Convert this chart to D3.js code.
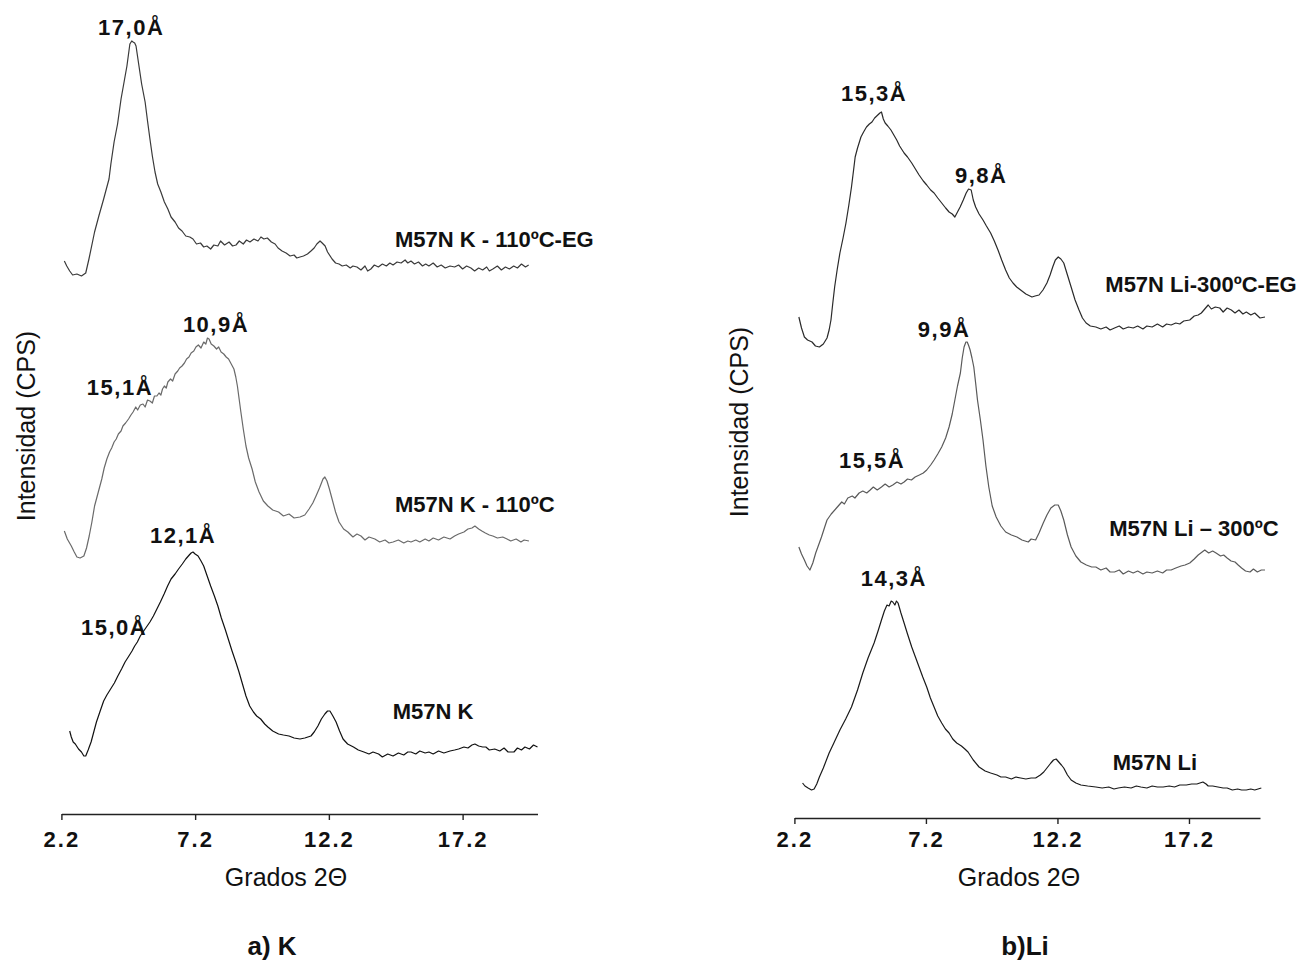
<!DOCTYPE html>
<html>
<head>
<meta charset="utf-8">
<script src="https://cdn.jsdelivr.net/npm/d3@7"></script>
<style>
body { margin: 0; background: #fff; }
text { font-family: Arial, "Liberation Sans", sans-serif; fill: #111; }
</style>
</head>
<body>
<svg width="1309" height="967"></svg>
<script>
// tick positions on the 2-theta axis
var tickValues = [2.2, 7.2, 12.2, 17.2];

// a) K panel, [2theta, counts] (curves are stacked as in the figure)
var kEG = [[2.31,553],[2.4,548],[2.51,543],[2.62,539],[2.78,540],[2.95,538],[3.11,541],[3.23,555],[3.44,582],[3.6,598],[3.78,615],[3.98,635],[4.05,650],[4.17,672],[4.3,690],[4.43,715],[4.55,733],[4.65,748],[4.76,770],[4.83,773],[4.88,772],[4.94,771],[4.99,768],[5.10,748],[5.2,730],[5.33,712],[5.42,693],[5.51,675],[5.6,658],[5.70,642],[5.8,630],[5.92,622],[6.05,612],[6.18,605],[6.3,597],[6.45,592],[6.58,586],[6.71,583],[6.85,578],[7.0,577],[7.12,575],[7.25,570],[7.4,571],[7.52,567],[7.64,568],[7.78,565],[7.9,569],[8.05,568],[8.15,573],[8.3,569],[8.47,572],[8.6,568],[8.73,569],[8.85,573],[9.0,570],[9.12,574],[9.25,572],[9.4,575],[9.55,573],[9.66,577],[9.77,575],[9.9,576],[10.05,572],[10.19,570],[10.3,566],[10.45,563],[10.60,561],[10.75,558],[10.9,559],[11.0,556],[11.12,557],[11.25,558],[11.4,560],[11.53,563],[11.65,566],[11.75,570],[11.87,573],[11.95,571],[12.06,568],[12.15,562],[12.32,555],[12.45,551],[12.58,550],[12.7,548],[12.85,549],[13.0,546],[13.1,548],[13.25,547],[13.4,544],[13.55,548],[13.65,543],[13.77,545],[13.9,549],[14.05,547],[14.2,550],[14.35,548],[14.48,551],[14.6,549],[14.75,552],[14.9,551],[15.05,554],[15.15,551],[15.27,553],[15.4,550],[15.55,552],[15.7,548],[15.82,550],[15.94,548],[16.1,551],[16.25,547],[16.4,549],[16.55,546],[16.73,548],[16.9,547],[17.05,549],[17.2,545],[17.35,548],[17.51,546],[17.65,543],[17.8,546],[17.95,544],[18.1,547],[18.2,543],[18.33,545],[18.5,548],[18.65,544],[18.8,547],[18.95,545],[19.11,548],[19.25,546],[19.4,550],[19.55,547],[19.67,549]];

var k110 = [[2.31,283],[2.42,275],[2.57,268],[2.68,262],[2.78,257],[2.9,256],[3.04,258],[3.14,266],[3.24,278],[3.34,292],[3.44,308],[3.58,322],[3.71,335],[3.8,346],[3.90,355],[4.0,362],[4.08,366],[4.17,372],[4.25,375],[4.33,380],[4.43,383],[4.5,388],[4.6,391],[4.71,395],[4.8,399],[4.88,402],[4.98,407],[5.05,404],[5.15,409],[5.25,410],[5.33,407],[5.42,414],[5.51,413],[5.6,411],[5.68,418],[5.77,418],[5.85,421],[5.92,419],[5.98,425],[6.05,428],[6.12,426],[6.18,432],[6.28,435],[6.36,433],[6.45,440],[6.55,443],[6.62,446],[6.71,448],[6.8,451],[6.88,455],[6.97,457],[7.05,461],[7.15,463],[7.23,467],[7.32,469],[7.42,466],[7.52,472],[7.6,470],[7.66,476],[7.72,475],[7.8,470],[7.9,468],[8.0,465],[8.08,467],[8.17,462],[8.27,460],[8.36,457],[8.45,455],[8.55,450],[8.65,445],[8.72,437],[8.78,428],[8.85,414],[8.91,402],[9.0,385],[9.10,368],[9.2,356],[9.33,345],[9.45,332],[9.59,322],[9.75,313],[9.92,308],[10.1,304],[10.32,302],[10.5,298],[10.71,300],[10.9,296],[11.12,297],[11.3,299],[11.46,305],[11.6,311],[11.72,318],[11.85,326],[11.98,335],[12.05,337],[12.13,333],[12.22,325],[12.32,315],[12.45,302],[12.58,292],[12.75,285],[12.91,282],[13.1,277],[13.25,280],[13.40,278],[13.55,274],[13.7,277],[13.92,275],[14.1,272],[14.3,274],[14.45,271],[14.6,272],[14.8,274],[15.0,271],[15.15,273],[15.27,272],[15.45,274],[15.6,272],[15.8,275],[15.94,273],[16.1,276],[16.3,274],[16.5,277],[16.73,275],[16.9,278],[17.05,280],[17.25,282],[17.4,285],[17.55,286],[17.66,288],[17.8,285],[17.92,283],[18.05,281],[18.2,279],[18.33,278],[18.5,276],[18.7,277],[18.86,275],[19.0,273],[19.2,275],[19.38,272],[19.5,274],[19.68,273]];

var kNat = [[2.51,83],[2.57,77],[2.64,72],[2.72,70],[2.84,65],[2.95,62],[3.04,58],[3.11,58],[3.2,64],[3.31,72],[3.41,82],[3.51,92],[3.65,103],[3.78,113],[3.9,119],[4.04,125],[4.18,131],[4.31,138],[4.45,145],[4.58,152],[4.7,157],[4.84,163],[4.94,168],[5.04,172],[5.15,178],[5.25,182],[5.38,187],[5.51,192],[5.64,198],[5.77,205],[5.9,212],[6.04,220],[6.17,228],[6.30,235],[6.45,240],[6.58,245],[6.72,250],[6.85,255],[6.98,259],[7.05,261],[7.12,262],[7.2,260],[7.31,258],[7.42,253],[7.52,248],[7.65,238],[7.78,228],[7.92,218],[8.05,208],[8.18,196],[8.32,185],[8.45,174],[8.58,163],[8.72,152],[8.84,142],[8.97,130],[9.10,118],[9.24,108],[9.38,102],[9.5,98],[9.65,95],[9.8,90],[9.92,87],[10.1,83],[10.32,80],[10.5,79],[10.71,78],[10.9,76],[11.12,75],[11.3,76],[11.53,78],[11.65,82],[11.79,88],[11.92,95],[12.05,100],[12.15,103],[12.24,103],[12.35,98],[12.47,92],[12.6,83],[12.73,75],[12.9,70],[13.12,67],[13.3,64],[13.51,62],[13.7,60],[13.85,62],[14.06,60],[14.2,57],[14.4,60],[14.6,58],[14.8,61],[15.0,59],[15.15,62],[15.27,62],[15.45,60],[15.6,63],[15.8,61],[15.94,62],[16.1,60],[16.3,63],[16.5,61],[16.73,63],[16.9,64],[17.05,65],[17.25,67],[17.4,66],[17.55,69],[17.66,70],[17.8,68],[17.95,67],[18.07,67],[18.2,64],[18.4,65],[18.59,63],[18.75,66],[18.9,62],[19.12,62],[19.25,66],[19.4,64],[19.53,67],[19.7,65],[19.85,69],[20.0,67]];

// b) Li panel
var liEG = [[2.37,501],[2.47,490],[2.58,481],[2.7,478],[2.87,476],[3.0,472],[3.15,471],[3.3,474],[3.44,480],[3.52,488],[3.59,498],[3.66,515],[3.73,531],[3.83,549],[3.93,565],[4.05,580],[4.16,595],[4.27,613],[4.37,631],[4.45,648],[4.51,661],[4.6,670],[4.73,681],[4.83,686],[4.94,691],[5.05,694],[5.15,696],[5.25,700],[5.37,703],[5.45,705],[5.51,706],[5.58,699],[5.65,695],[5.75,692],[5.87,688],[5.98,683],[6.09,678],[6.2,672],[6.37,665],[6.5,661],[6.66,655],[6.8,649],[6.94,643],[7.1,637],[7.23,633],[7.38,628],[7.51,625],[7.65,620],[7.80,615],[7.95,610],[8.08,606],[8.2,604],[8.30,601],[8.4,606],[8.50,611],[8.62,618],[8.73,625],[8.82,629],[8.92,628],[9.0,618],[9.09,611],[9.22,604],[9.37,598],[9.5,592],[9.66,585],[9.8,577],[9.94,568],[10.08,558],[10.23,548],[10.37,540],[10.51,535],[10.65,531],[10.80,528],[11.0,524],[11.23,521],[11.35,522],[11.50,523],[11.65,528],[11.80,535],[11.92,543],[12.02,551],[12.12,558],[12.23,561],[12.33,559],[12.44,555],[12.58,543],[12.72,531],[12.87,518],[13.02,508],[13.15,500],[13.29,495],[13.45,492],[13.66,491],[13.85,489],[14.05,491],[14.2,488],[14.37,490],[14.55,492],[14.7,489],[14.9,491],[15.08,490],[15.25,492],[15.45,489],[15.6,492],[15.80,491],[16.0,494],[16.2,491],[16.35,494],[16.52,493],[16.7,495],[16.85,494],[17.0,497],[17.23,498],[17.4,502],[17.55,503],[17.67,505],[17.8,509],[17.93,513],[18.05,509],[18.2,511],[18.37,510],[18.5,506],[18.65,510],[18.81,508],[18.95,505],[19.1,508],[19.25,504],[19.38,506],[19.55,503],[19.7,505],[19.9,500],[20.09,501]];

var li300 = [[2.37,271],[2.47,264],[2.58,258],[2.68,252],[2.79,248],[2.9,255],[3.01,265],[3.12,273],[3.23,281],[3.34,290],[3.44,298],[3.6,304],[3.80,310],[4.0,316],[4.1,314],[4.23,320],[4.4,322],[4.5,320],[4.66,325],[4.8,327],[4.95,325],[5.08,328],[5.2,331],[5.35,328],[5.51,331],[5.65,334],[5.8,331],[5.94,333],[6.1,336],[6.25,334],[6.37,336],[6.5,339],[6.65,338],[6.79,341],[6.95,343],[7.1,345],[7.23,348],[7.38,353],[7.51,358],[7.65,364],[7.80,371],[7.95,380],[8.08,391],[8.2,404],[8.30,418],[8.4,432],[8.51,445],[8.58,460],[8.65,471],[8.72,476],[8.77,476],[8.83,472],[8.88,468],[8.95,460],[9.02,451],[9.09,435],[9.16,418],[9.27,398],[9.37,378],[9.48,352],[9.59,331],[9.72,312],[9.87,301],[10.05,292],[10.23,286],[10.45,283],[10.66,281],[10.85,278],[11.09,276],[11.2,279],[11.37,278],[11.5,285],[11.66,295],[11.8,303],[11.95,310],[12.1,313],[12.23,313],[12.33,307],[12.44,298],[12.58,283],[12.72,271],[12.9,262],[13.09,256],[13.3,253],[13.5,251],[13.66,251],[13.85,248],[14.05,250],[14.2,246],[14.37,246],[14.55,248],[14.7,244],[14.9,247],[15.08,245],[15.25,247],[15.45,244],[15.6,246],[15.80,245],[16.0,247],[16.2,245],[16.35,248],[16.52,248],[16.7,250],[16.9,252],[17.05,253],[17.23,255],[17.4,259],[17.55,263],[17.7,266],[17.80,268],[17.95,265],[18.1,267],[18.23,265],[18.4,262],[18.52,263],[18.65,260],[18.8,257],[18.95,256],[19.07,253],[19.2,250],[19.35,247],[19.52,246],[19.65,249],[19.8,246],[19.95,248],[20.09,248]];

var liNat = [[2.51,35],[2.6,32],[2.72,30],[2.85,28],[2.95,29],[3.05,34],[3.15,41],[3.3,50],[3.52,65],[3.7,75],[3.93,88],[4.15,99],[4.37,111],[4.6,128],[4.80,145],[5.0,160],[5.23,175],[5.38,187],[5.51,198],[5.62,207],[5.72,213],[5.8,212],[5.88,217],[5.94,216],[6.02,213],[6.08,217],[6.14,215],[6.25,205],[6.37,195],[6.5,184],[6.66,171],[6.8,161],[6.94,151],[7.08,141],[7.23,131],[7.37,120],[7.51,111],[7.65,102],[7.80,95],[7.94,89],[8.08,85],[8.22,79],[8.37,75],[8.55,72],[8.68,69],[8.80,66],[9.0,58],[9.22,51],[9.45,47],[9.66,45],[9.9,43],[10.05,41],[10.23,41],[10.45,39],[10.62,41],[10.80,40],[11.0,39],[11.2,40],[11.37,40],[11.55,43],[11.68,46],[11.80,50],[11.95,55],[12.05,58],[12.15,59],[12.25,56],[12.35,53],[12.44,50],[12.58,43],[12.72,38],[12.9,35],[13.09,33],[13.35,32],[13.66,31],[13.9,30],[14.15,31],[14.35,29],[14.51,30],[14.75,31],[15.0,30],[15.2,32],[15.37,31],[15.6,30],[15.8,32],[16.0,31],[16.22,31],[16.45,32],[16.65,31],[16.85,33],[17.1,33],[17.3,34],[17.5,34],[17.73,36],[17.85,34],[17.93,32],[18.1,32],[18.3,31],[18.5,30],[18.65,30],[18.85,28],[19.05,29],[19.2,28],[19.38,28],[19.55,29],[19.7,28],[19.95,30]];

// sample names, anchored at [2theta, counts]
var kNames = [["M57N K - 110ºC-EG", 14.67, 567], ["M57N K - 110ºC", 14.67, 302], ["M57N K", 14.59, 95]];
var liNames = [["M57N Li-300ºC-EG", 14.02, 526], ["M57N Li – 300ºC", 14.17, 282], ["M57N Li", 14.30, 48]];

// d-spacing annotations, centred at [2theta, counts]
var kPeaks = [["17,0Å", 4.81, 779], ["10,9Å", 7.98, 482], ["15,1Å", 4.39, 419], ["12,1Å", 6.75, 271], ["15,0Å", 4.17, 179]];
var liPeaks = [["15,3Å", 5.23, 717], ["9,8Å", 9.30, 635], ["9,9Å", 7.89, 481], ["15,5Å", 5.15, 350], ["14,3Å", 5.98, 232]];

var svg = d3.select("svg");

function drawPanel(p) {
    var x = d3.scaleLinear().domain([2.2, p.xMax]).range([p.left, p.right]);
    var y = d3.scaleLinear().domain([0, 800]).range([p.base, p.base - 800]);

    var line = d3.line()
        .x(function(d) { return x(d[0]); })
        .y(function(d) { return y(d[1]); });

    p.series.forEach(function(s, i) {
        svg.append("path")
            .datum(s)
            .attr("d", line)
            .attr("fill", "none")
            .attr("stroke", p.colors[i])
            .attr("stroke-width", 1.2)
            .attr("stroke-linejoin", "round");
    });

    var axis = svg.append("g")
        .attr("transform", "translate(0," + p.base + ")")
        .call(d3.axisBottom(x).tickValues(tickValues).tickFormat(d3.format(".1f")).tickSize(6).tickSizeOuter(0));
    axis.select(".domain").attr("stroke", "#222").attr("stroke-width", 1.6);
    axis.selectAll(".tick line").attr("stroke", "#222").attr("stroke-width", 1.4);
    axis.selectAll(".tick text")
        .attr("y", 847 - p.base).attr("dy", 0)
        .style("font-family", "Arial, 'Liberation Sans', sans-serif")
        .style("font-size", "22px").style("font-weight", "bold")
        .style("letter-spacing", "2px").attr("fill", "#111");

    svg.selectAll(null).data(p.names).enter().append("text")
        .attr("x", function(d) { return x(d[1]); })
        .attr("y", function(d) { return y(d[2]); })
        .style("font-size", "22px").style("font-weight", "bold")
        .text(function(d) { return d[0]; });

    svg.selectAll(null).data(p.peaks).enter().append("text")
        .attr("x", function(d) { return x(d[1]); })
        .attr("y", function(d) { return y(d[2]); })
        .attr("text-anchor", "middle")
        .style("font-size", "22px").style("font-weight", "bold")
        .style("letter-spacing", "1.5px")
        .text(function(d) { return d[0]; });

    svg.append("text")
        .attr("x", p.xTitle).attr("y", 886)
        .attr("text-anchor", "middle")
        .style("font-size", "25px")
        .text("Grados 2Θ");

    svg.append("text")
        .attr("transform", "translate(" + p.yTitle + "," + p.yMid + ") rotate(-90)")
        .attr("text-anchor", "middle")
        .style("font-size", "25px")
        .text("Intensidad (CPS)");

    svg.append("text")
        .attr("x", p.xPanel).attr("y", 955)
        .attr("text-anchor", "middle")
        .style("font-size", "26px").style("font-weight", "bold")
        .text(p.title);
}

drawPanel({
    left: 61.4, right: 537.5, xMax: 20, base: 814,
    series: [kEG, k110, kNat], colors: ["#3a3a3a", "#6a6a6a", "#111"],
    names: kNames, peaks: kPeaks,
    xTitle: 286, yTitle: 35, yMid: 426, xPanel: 272, title: "a) K"
});

drawPanel({
    left: 794.4, right: 1260, xMax: 19.9, base: 818,
    series: [liEG, li300, liNat], colors: ["#2a2a2a", "#5a5a5a", "#1a1a1a"],
    names: liNames, peaks: liPeaks,
    xTitle: 1019, yTitle: 748, yMid: 422, xPanel: 1025, title: "b)Li"
});
</script>
</body>
</html>
